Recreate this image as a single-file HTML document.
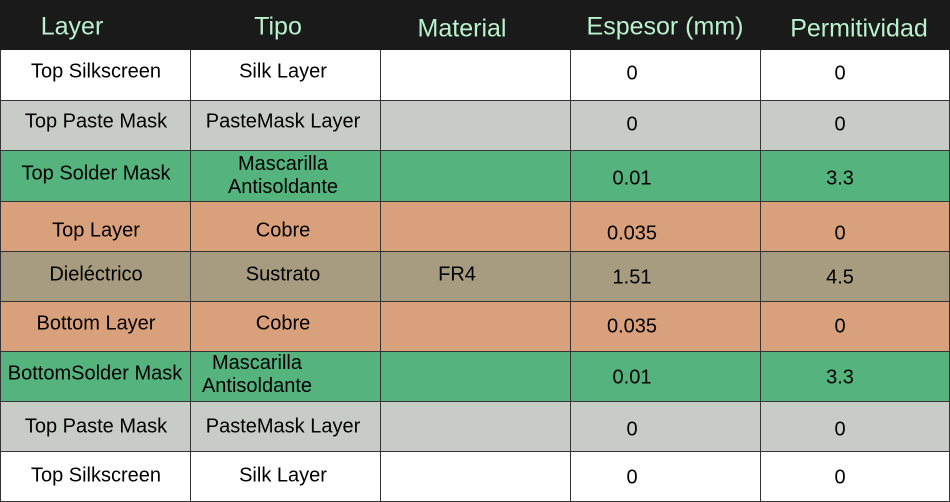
<!DOCTYPE html>
<html><head><meta charset="utf-8"><style>
body{margin:0;width:950px;height:502px;overflow:hidden;background:#fff;font-family:"Liberation Sans",sans-serif;position:relative}
.r{position:absolute;left:0;width:950px}
.v{position:absolute;top:50px;width:1px;height:452px;background:#333}
.h{position:absolute;left:0;width:950px;height:1px;background:#333}
.t{position:absolute;font-size:20px;color:#000;text-align:center;line-height:23px;transform:translate(-50%,-50%);white-space:nowrap;margin-top:2px}
.hd{position:absolute;font-size:25px;color:#b9f2cc;transform:translate(-50%,-50%);white-space:nowrap}
</style></head><body>
<div class="r" style="top:0;height:50px;background:#1a1a1a"></div>
<div class="r" style="top:50px;height:50px;background:#fff"></div>
<div class="r" style="top:100px;height:51px;background:#c8ccc6"></div>
<div class="r" style="top:151px;height:50px;background:#55b37e"></div>
<div class="r" style="top:201px;height:50px;background:#d9a07c"></div>
<div class="r" style="top:251px;height:50px;background:#a89c80"></div>
<div class="r" style="top:301px;height:50px;background:#d9a07c"></div>
<div class="r" style="top:351px;height:50px;background:#55b37e"></div>
<div class="r" style="top:401px;height:50px;background:#c8ccc6"></div>
<div class="r" style="top:451px;height:51px;background:#fff"></div>
<div class="v" style="left:0"></div><div class="v" style="left:190px"></div><div class="v" style="left:380px"></div><div class="v" style="left:570px"></div><div class="v" style="left:760px"></div><div class="v" style="left:949px"></div>
<div class="h" style="top:100px"></div><div class="h" style="top:150px"></div><div class="h" style="top:201px"></div><div class="h" style="top:251px"></div><div class="h" style="top:301px"></div><div class="h" style="top:351px"></div><div class="h" style="top:401px"></div><div class="h" style="top:451px"></div><div class="h" style="top:501px"></div>
<div class="hd" style="left:72px;top:27px">Layer</div>
<div class="hd" style="left:278px;top:27px">Tipo</div>
<div class="hd" style="left:462px;top:29px">Material</div>
<div class="hd" style="left:665px;top:27px">Espesor (mm)</div>
<div class="hd" style="left:859px;top:29px">Permitividad</div>

<div class="t" style="left:96px;top:70px">Top Silkscreen</div>
<div class="t" style="left:283px;top:70px">Silk Layer</div>
<div class="t" style="left:632px;top:72px">0</div>
<div class="t" style="left:840px;top:72px">0</div>

<div class="t" style="left:96px;top:120px">Top Paste Mask</div>
<div class="t" style="left:283px;top:120px">PasteMask Layer</div>
<div class="t" style="left:632px;top:123px">0</div>
<div class="t" style="left:840px;top:123px">0</div>

<div class="t" style="left:96px;top:172px">Top Solder Mask</div>
<div class="t" style="left:283px;top:174px">Mascarilla<br>Antisoldante</div>
<div class="t" style="left:632px;top:177px">0.01</div>
<div class="t" style="left:840px;top:177px">3.3</div>

<div class="t" style="left:96px;top:229px">Top Layer</div>
<div class="t" style="left:283px;top:229px">Cobre</div>
<div class="t" style="left:632px;top:232px">0.035</div>
<div class="t" style="left:840px;top:232px">0</div>

<div class="t" style="left:96px;top:273px">Dieléctrico</div>
<div class="t" style="left:283px;top:273px">Sustrato</div>
<div class="t" style="left:457px;top:273px">FR4</div>
<div class="t" style="left:632px;top:276px">1.51</div>
<div class="t" style="left:840px;top:276px">4.5</div>

<div class="t" style="left:96px;top:322px">Bottom Layer</div>
<div class="t" style="left:283px;top:322px">Cobre</div>
<div class="t" style="left:632px;top:325px">0.035</div>
<div class="t" style="left:840px;top:325px">0</div>

<div class="t" style="left:95px;top:372px">BottomSolder Mask</div>
<div class="t" style="left:257px;top:373px">Mascarilla<br>Antisoldante</div>
<div class="t" style="left:632px;top:376px">0.01</div>
<div class="t" style="left:840px;top:376px">3.3</div>

<div class="t" style="left:96px;top:425px">Top Paste Mask</div>
<div class="t" style="left:283px;top:425px">PasteMask Layer</div>
<div class="t" style="left:632px;top:428px">0</div>
<div class="t" style="left:840px;top:428px">0</div>

<div class="t" style="left:96px;top:474px">Top Silkscreen</div>
<div class="t" style="left:283px;top:474px">Silk Layer</div>
<div class="t" style="left:632px;top:476px">0</div>
<div class="t" style="left:840px;top:476px">0</div>
</body></html>
